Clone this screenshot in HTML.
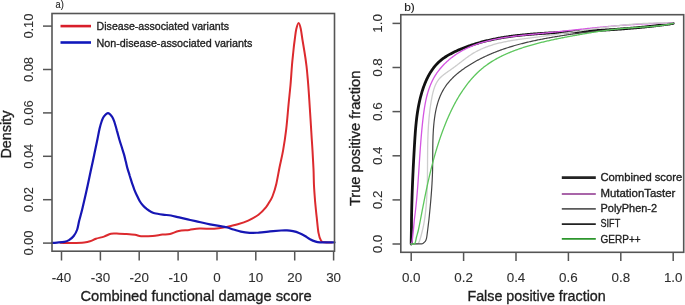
<!DOCTYPE html>
<html><head><meta charset="utf-8"><style>
html,body{margin:0;padding:0;background:#fff;}
body{width:685px;height:305px;overflow:hidden;}
#w{width:685px;height:305px;will-change:transform;}
svg{display:block;}
text{font-family:"Liberation Sans",sans-serif;}
</style></head><body><div id="w">
<svg width="685" height="305" viewBox="0 0 685 305">
<path d="M60.5,242.8 C62.5,242.8 68.5,243.1 72.5,243.0 C76.5,242.9 81.3,242.7 84.2,242.4 C87.1,242.1 88.0,241.9 90.0,241.3 C92.0,240.7 93.6,239.5 95.9,238.7 C98.2,237.9 101.5,237.4 104.0,236.6 C106.5,235.8 108.5,234.2 111.0,233.7 C113.5,233.2 116.9,233.7 119.2,233.7 C121.5,233.7 122.4,233.7 125.0,233.9 C127.6,234.1 132.3,234.4 135.0,234.8 C137.7,235.2 138.2,236.0 141.1,236.2 C144.0,236.4 149.0,236.2 152.6,235.9 C156.2,235.6 159.6,234.9 162.5,234.6 C165.4,234.3 167.3,234.5 170.0,233.9 C172.7,233.3 175.6,231.7 178.8,231.0 C182.0,230.3 185.8,230.3 189.2,229.9 C192.6,229.5 195.3,228.7 199.5,228.5 C203.7,228.3 209.8,229.1 214.2,228.8 C218.6,228.6 222.1,227.8 226.0,227.0 C229.9,226.2 234.1,225.4 237.8,224.3 C241.5,223.2 244.8,222.2 248.2,220.6 C251.6,219.0 255.6,216.9 258.5,214.7 C261.4,212.5 264.0,209.7 265.9,207.4 C267.8,205.1 268.9,202.9 270.0,201.0 C271.1,199.1 271.6,198.8 272.6,196.0 C273.7,193.2 275.2,188.8 276.3,184.0 C277.4,179.2 278.4,173.1 279.5,167.5 C280.6,161.9 282.0,156.8 283.1,150.4 C284.2,144.1 285.3,137.0 286.2,129.4 C287.1,121.8 287.8,112.4 288.5,105.0 C289.2,97.6 289.9,91.7 290.5,85.0 C291.1,78.3 291.5,70.8 292.0,65.0 C292.5,59.2 293.1,54.2 293.5,50.0 C293.9,45.8 294.2,43.5 294.7,40.0 C295.2,36.5 295.6,31.9 296.3,29.0 C297.0,26.1 297.9,22.9 298.6,22.9 C299.4,22.9 300.2,26.1 300.8,29.0 C301.4,31.9 301.9,36.2 302.5,40.0 C303.1,43.8 303.8,47.7 304.5,52.0 C305.2,56.3 305.9,61.0 306.5,66.0 C307.1,71.0 307.5,76.3 308.0,82.0 C308.5,87.7 308.9,93.9 309.3,100.0 C309.7,106.1 310.1,112.9 310.5,118.7 C310.9,124.5 311.2,129.7 311.5,135.0 C311.8,140.3 312.2,144.7 312.5,150.4 C312.8,156.1 313.2,163.1 313.5,169.0 C313.8,174.9 313.7,180.3 314.0,185.7 C314.3,191.1 314.7,196.2 315.1,201.5 C315.6,206.8 316.1,212.0 316.7,217.2 C317.3,222.4 317.8,229.0 318.5,232.9 C319.2,236.8 320.0,239.2 321.1,240.8 C322.2,242.4 323.2,242.0 325.0,242.3 C326.8,242.6 330.8,242.4 332.0,242.4" fill="none" stroke="#dc2a2e" stroke-width="2.0" stroke-linejoin="round" stroke-linecap="round"/>
<path d="M52.0,242.8 C52.8,242.8 55.0,242.8 57.0,242.6 C59.0,242.4 62.3,242.2 64.3,241.8 C66.3,241.4 67.4,241.1 69.0,240.1 C70.6,239.1 72.3,237.8 73.7,236.0 C75.1,234.2 76.3,232.1 77.2,229.5 C78.1,226.9 78.4,223.8 79.3,220.3 C80.2,216.8 81.3,213.0 82.4,208.4 C83.5,203.8 84.9,197.9 86.1,192.6 C87.3,187.3 88.4,182.1 89.5,176.8 C90.6,171.5 91.9,165.6 92.9,161.0 C93.9,156.4 94.5,153.2 95.3,149.5 C96.1,145.8 96.8,142.5 97.5,139.0 C98.2,135.5 98.9,131.4 99.6,128.5 C100.3,125.6 100.9,123.5 101.6,121.5 C102.3,119.5 102.7,118.0 103.8,116.6 C104.9,115.2 106.6,113.1 108.0,113.1 C109.4,113.1 110.9,115.1 112.0,116.6 C113.1,118.1 113.6,119.7 114.4,122.0 C115.2,124.3 116.1,127.6 116.9,130.6 C117.8,133.6 118.7,137.2 119.5,140.0 C120.3,142.8 121.0,144.8 121.8,147.2 C122.5,149.6 123.3,152.0 124.0,154.4 C124.7,156.8 125.2,159.2 125.8,161.6 C126.4,164.0 126.9,166.5 127.6,168.9 C128.3,171.3 129.1,173.6 129.8,176.0 C130.6,178.4 131.3,181.0 132.1,183.3 C132.9,185.6 133.6,187.8 134.4,189.8 C135.2,191.8 135.9,193.3 136.8,195.2 C137.7,197.1 138.8,199.6 139.8,201.3 C140.8,203.0 141.9,204.3 143.0,205.5 C144.1,206.7 145.2,207.7 146.4,208.7 C147.7,209.7 149.1,210.8 150.5,211.5 C151.9,212.2 152.5,212.7 154.6,213.2 C156.7,213.7 160.1,214.2 162.8,214.6 C165.5,215.0 168.3,215.0 171.0,215.5 C173.7,216.0 176.4,216.8 179.2,217.4 C182.0,218.1 185.0,218.8 187.7,219.4 C190.4,220.0 191.9,220.3 195.6,221.1 C199.3,221.9 204.9,223.4 210.0,224.4 C215.1,225.4 222.1,226.3 226.0,227.2 C229.9,228.0 230.9,228.8 233.4,229.5 C235.9,230.2 238.1,231.0 240.8,231.6 C243.5,232.2 246.7,232.7 249.6,232.9 C252.5,233.1 255.1,232.8 258.5,232.6 C261.9,232.3 266.2,231.8 270.0,231.4 C273.8,231.1 278.2,230.7 281.0,230.5 C283.8,230.3 285.0,230.3 287.0,230.4 C289.0,230.5 291.0,230.8 293.0,231.2 C295.0,231.6 297.0,232.1 299.0,232.9 C301.0,233.7 303.2,234.9 305.0,236.0 C306.8,237.1 308.3,238.3 310.0,239.2 C311.7,240.1 313.3,240.9 315.0,241.4 C316.7,241.9 316.8,242.1 320.0,242.3 C323.2,242.5 332.1,242.4 334.5,242.4" fill="none" stroke="#1616b4" stroke-width="2.2" stroke-linejoin="round" stroke-linecap="round"/>
<path d="M411.2,244.0 C411.2,242.7 411.2,240.0 411.3,236.0 C411.4,232.0 411.5,222.7 411.5,220.0 L411.52,218.97 L411.53,217.95 L411.55,216.92 L411.57,215.90 L411.59,214.88 L411.61,213.85 L411.63,212.83 L411.65,211.81 L411.67,210.79 L411.69,209.77 L411.72,208.76 L411.74,207.74 L411.76,206.72 L411.79,205.71 L411.82,204.69 L411.84,203.68 L411.87,202.67 L411.90,201.65 L411.93,200.64 L411.96,199.63 L411.99,198.62 L412.02,197.61 L412.05,196.60 L412.09,195.59 L412.12,194.58 L412.15,193.57 L412.19,192.57 L412.22,191.56 L412.26,190.55 L412.30,189.54 L412.34,188.54 L412.37,187.53 L412.41,186.53 L412.45,185.52 L412.49,184.52 L412.53,183.51 L412.57,182.51 L412.61,181.50 L412.66,180.50 L412.70,179.49 L412.74,178.49 L412.79,177.48 L412.83,176.48 L412.88,175.47 L412.92,174.47 L412.97,173.47 L413.02,172.46 L413.07,171.46 L413.11,170.45 L413.16,169.45 L413.21,168.44 L413.26,167.44 L413.31,166.43 L413.36,165.43 L413.41,164.42 L413.46,163.42 L413.52,162.41 L413.57,161.40 L413.62,160.40 L413.68,159.39 L413.73,158.38 L413.79,157.37 L413.84,156.36 L413.90,155.35 L413.95,154.34 L414.01,153.33 L414.06,152.32 L414.12,151.31 L414.18,150.30 L414.24,149.29 L414.30,148.27 L414.36,147.26 L414.41,146.25 L414.47,145.23 L414.53,144.21 L414.60,143.20 L414.66,142.18 L414.72,141.16 L414.78,140.14 L414.85,139.12 L414.91,138.11 L414.98,137.09 L415.05,136.07 L415.12,135.05 L415.19,134.03 L415.26,133.01 L415.34,131.98 L415.42,130.96 L415.50,129.94 L415.59,128.92 L415.67,127.90 L415.76,126.89 L415.86,125.87 L415.95,124.85 L416.05,123.83 L416.16,122.81 L416.26,121.79 L416.37,120.78 L416.49,119.76 L416.61,118.75 L416.73,117.73 L416.86,116.72 L416.99,115.71 L417.13,114.70 L417.27,113.69 L417.42,112.68 L417.57,111.67 L417.73,110.67 L417.90,109.66 L418.07,108.66 L418.24,107.66 L418.42,106.66 L418.61,105.66 L418.81,104.66 L419.01,103.66 L419.22,102.67 L419.43,101.68 L419.65,100.69 L419.88,99.70 L420.11,98.72 L420.36,97.73 L420.61,96.75 L420.87,95.77 L421.13,94.79 L421.41,93.82 L421.69,92.85 L421.98,91.88 L422.28,90.91 L422.59,89.95 L422.90,88.98 L423.23,88.03 L423.56,87.07 L423.91,86.12 L424.26,85.17 L424.63,84.23 L425.00,83.29 L425.39,82.36 L425.78,81.43 L426.19,80.51 L426.60,79.60 L427.03,78.69 L427.47,77.79 L427.92,76.90 L428.39,76.01 L428.86,75.13 L429.35,74.27 L429.85,73.41 L430.36,72.56 L430.89,71.72 L431.43,70.89 L431.98,70.07 L432.55,69.26 L433.13,68.47 L433.72,67.68 L434.33,66.91 L434.95,66.15 L435.59,65.41 L436.24,64.67 L436.91,63.95 L437.59,63.25 L438.29,62.56 L439.01,61.88 L439.74,61.22 L440.49,60.57 L441.25,59.94 L442.03,59.33 L442.82,58.73 L443.63,58.14 L444.45,57.57 L445.29,57.01 L446.13,56.46 L446.99,55.93 L447.86,55.41 L448.74,54.89 L449.63,54.39 L450.52,53.91 L451.43,53.43 L452.34,52.96 L453.26,52.50 L454.18,52.04 L455.11,51.60 L456.04,51.16 L456.98,50.74 L457.92,50.32 L458.87,49.90 L459.82,49.50 L460.77,49.10 L461.73,48.71 L462.68,48.32 L463.64,47.95 L464.61,47.58 L465.57,47.21 L466.53,46.85 L467.50,46.50 L468.46,46.16 L469.43,45.82 L470.40,45.49 L471.37,45.16 L472.34,44.84 L473.31,44.53 L474.28,44.22 L475.25,43.92 L476.22,43.62 L477.20,43.33 L478.17,43.04 L479.15,42.77 L480.13,42.49 L481.10,42.22 L482.08,41.96 L483.06,41.70 L484.04,41.45 L485.02,41.20 L486.00,40.96 L486.99,40.72 L487.97,40.49 L488.95,40.26 L489.94,40.04 L490.92,39.82 L491.91,39.61 L492.90,39.40 L493.89,39.20 L494.87,39.00 L495.86,38.80 L496.85,38.61 L497.84,38.42 L498.83,38.24 L499.83,38.06 L500.82,37.89 L501.81,37.72 L502.81,37.56 L503.80,37.39 L504.80,37.23 L505.79,37.08 L506.79,36.93 L507.78,36.78 L508.78,36.64 L509.78,36.50 L510.78,36.36 L511.78,36.23 L512.78,36.10 L513.78,35.97 L514.78,35.85 L515.78,35.73 L516.78,35.61 L517.78,35.49 L518.78,35.38 L519.79,35.27 L520.79,35.17 L521.79,35.06 L522.80,34.96 L523.80,34.86 L524.81,34.77 L525.81,34.67 L526.82,34.58 L527.83,34.49 L528.83,34.40 L529.84,34.32 L530.85,34.24 L531.86,34.16 L532.86,34.08 L533.87,34.00 L534.88,33.92 L535.89,33.85 L536.90,33.78 L537.91,33.71 L538.92,33.64 L539.93,33.57 L540.94,33.50 L541.95,33.44 L542.96,33.37 L543.97,33.31 L544.98,33.25 L545.99,33.19 L547.00,33.13 L548.02,33.07 L549.03,33.01 L550.04,32.95 L551.05,32.90 L552.06,32.84 L553.08,32.79 L554.09,32.73 L555.10,32.68 L556.12,32.62 L557.13,32.57 L558.14,32.52 L559.15,32.46 L560.17,32.41 L561.18,32.36 L562.19,32.30 L563.21,32.25 L564.22,32.20 L565.23,32.15 L566.25,32.10 L567.26,32.05 L568.27,31.99 L569.29,31.94 L570.30,31.89 L571.32,31.84 L572.33,31.79 L573.34,31.74 L574.36,31.69 L575.37,31.64 L576.39,31.59 L577.40,31.54 L578.41,31.48 L579.43,31.43 L580.44,31.38 L581.46,31.33 L582.47,31.28 L583.48,31.23 L584.50,31.17 L585.51,31.12 L586.52,31.07 L587.54,31.02 L588.55,30.96 L589.57,30.91 L590.58,30.86 L591.59,30.80 L592.61,30.75 L593.62,30.69 L594.63,30.64 L595.65,30.58 L596.66,30.53 L597.68,30.47 L598.69,30.41 L599.70,30.36 L600.71,30.30 L601.73,30.24 L602.74,30.18 L603.75,30.12 L604.77,30.06 L605.78,30.00 L606.79,29.94 L607.80,29.88 L608.82,29.81 L609.83,29.75 L610.84,29.69 L611.85,29.62 L612.87,29.56 L613.88,29.49 L614.89,29.42 L615.90,29.35 L616.91,29.28 L617.92,29.21 L618.93,29.14 L619.95,29.07 L620.96,29.00 L621.97,28.92 L622.98,28.85 L623.99,28.77 L625.00,28.70 L626.01,28.62 L627.02,28.54 L628.03,28.46 L629.04,28.38 L630.05,28.30 L631.05,28.21 L632.06,28.13 L633.07,28.04 L634.08,27.96 L635.09,27.87 L636.10,27.78 L637.10,27.69 L638.11,27.60 L639.12,27.50 L640.13,27.41 L641.13,27.31 L642.14,27.22 L643.15,27.12 L644.15,27.02 L645.16,26.92 L646.16,26.81 L647.17,26.71 L648.17,26.60 L649.18,26.49 L650.18,26.39 L651.19,26.28 L652.19,26.16 L653.20,26.05 L654.20,25.93 L655.20,25.82 L656.20,25.70 L657.21,25.58 L658.21,25.46 L659.21,25.33 L660.21,25.21 L661.21,25.08 L662.21,24.95 L663.21,24.82 L664.22,24.69 L665.22,24.55 L666.21,24.42 L667.21,24.28 L668.21,24.14 L669.21,24.00 L670.21,23.85 L671.21,23.71 L672.20,23.56 L673.20,23.40" fill="none" stroke="#111" stroke-width="2.8" stroke-linejoin="round" stroke-linecap="round"/>
<path d="M411.2,244.0 C411.4,243.4 411.9,242.5 412.2,240.5 C412.5,238.5 412.8,235.4 413.2,232.0 C413.6,228.6 414.1,222.0 414.3,220.0 L414.43,219.00 L414.56,218.00 L414.69,217.00 L414.82,216.00 L414.95,215.01 L415.07,214.01 L415.19,213.01 L415.31,212.02 L415.43,211.02 L415.54,210.02 L415.65,209.03 L415.76,208.03 L415.87,207.04 L415.98,206.04 L416.08,205.05 L416.18,204.05 L416.28,203.06 L416.38,202.07 L416.48,201.07 L416.57,200.08 L416.66,199.09 L416.76,198.10 L416.85,197.10 L416.93,196.11 L417.02,195.12 L417.11,194.13 L417.19,193.14 L417.27,192.15 L417.35,191.15 L417.43,190.16 L417.51,189.17 L417.59,188.18 L417.67,187.19 L417.74,186.20 L417.82,185.21 L417.89,184.22 L417.96,183.23 L418.04,182.24 L418.11,181.25 L418.18,180.26 L418.25,179.27 L418.32,178.28 L418.38,177.29 L418.45,176.30 L418.52,175.31 L418.59,174.32 L418.65,173.33 L418.72,172.34 L418.78,171.35 L418.85,170.36 L418.91,169.37 L418.98,168.38 L419.04,167.39 L419.11,166.40 L419.17,165.41 L419.24,164.42 L419.30,163.43 L419.36,162.44 L419.43,161.45 L419.49,160.46 L419.56,159.47 L419.62,158.48 L419.69,157.49 L419.76,156.50 L419.82,155.51 L419.89,154.51 L419.96,153.52 L420.02,152.53 L420.09,151.54 L420.16,150.54 L420.23,149.55 L420.30,148.56 L420.37,147.56 L420.45,146.57 L420.52,145.58 L420.59,144.58 L420.67,143.59 L420.75,142.59 L420.82,141.60 L420.90,140.60 L420.98,139.61 L421.06,138.61 L421.14,137.61 L421.23,136.61 L421.31,135.62 L421.40,134.62 L421.49,133.62 L421.58,132.62 L421.67,131.62 L421.76,130.62 L421.85,129.62 L421.95,128.62 L422.05,127.62 L422.15,126.62 L422.25,125.62 L422.35,124.61 L422.45,123.61 L422.56,122.61 L422.67,121.60 L422.78,120.60 L422.89,119.59 L423.01,118.59 L423.13,117.58 L423.25,116.57 L423.37,115.57 L423.50,114.56 L423.63,113.56 L423.77,112.55 L423.91,111.55 L424.05,110.54 L424.20,109.54 L424.35,108.54 L424.51,107.54 L424.68,106.54 L424.85,105.55 L425.02,104.55 L425.21,103.56 L425.40,102.57 L425.59,101.58 L425.80,100.60 L426.01,99.62 L426.23,98.64 L426.46,97.67 L426.70,96.69 L426.94,95.73 L427.19,94.76 L427.46,93.80 L427.73,92.85 L428.01,91.89 L428.31,90.95 L428.61,90.01 L428.93,89.07 L429.25,88.14 L429.59,87.21 L429.94,86.29 L430.30,85.37 L430.67,84.46 L431.05,83.56 L431.45,82.66 L431.86,81.76 L432.28,80.88 L432.72,80.00 L433.17,79.13 L433.63,78.26 L434.11,77.41 L434.61,76.55 L435.12,75.71 L435.64,74.88 L436.18,74.05 L436.73,73.23 L437.30,72.42 L437.88,71.62 L438.47,70.82 L439.08,70.03 L439.70,69.26 L440.33,68.49 L440.97,67.73 L441.62,66.98 L442.29,66.23 L442.97,65.50 L443.66,64.78 L444.35,64.06 L445.06,63.36 L445.78,62.66 L446.51,61.98 L447.24,61.30 L447.99,60.64 L448.74,59.98 L449.51,59.34 L450.27,58.70 L451.05,58.08 L451.84,57.46 L452.63,56.86 L453.42,56.27 L454.23,55.69 L455.04,55.12 L455.85,54.56 L456.67,54.01 L457.50,53.48 L458.33,52.95 L459.16,52.44 L460.00,51.93 L460.85,51.44 L461.70,50.96 L462.55,50.48 L463.42,50.02 L464.28,49.57 L465.15,49.12 L466.02,48.69 L466.90,48.26 L467.79,47.85 L468.67,47.44 L469.57,47.05 L470.46,46.66 L471.36,46.28 L472.27,45.91 L473.17,45.55 L474.09,45.19 L475.00,44.85 L475.92,44.51 L476.85,44.18 L477.77,43.86 L478.70,43.55 L479.64,43.24 L480.57,42.94 L481.52,42.65 L482.46,42.37 L483.41,42.09 L484.36,41.82 L485.31,41.56 L486.27,41.30 L487.23,41.05 L488.19,40.81 L489.15,40.57 L490.12,40.34 L491.09,40.11 L492.06,39.89 L493.04,39.68 L494.01,39.47 L494.99,39.27 L495.98,39.07 L496.96,38.88 L497.95,38.69 L498.93,38.51 L499.92,38.33 L500.92,38.16 L501.91,37.99 L502.90,37.82 L503.90,37.66 L504.90,37.51 L505.90,37.36 L506.90,37.21 L507.90,37.06 L508.91,36.92 L509.91,36.78 L510.92,36.65 L511.93,36.52 L512.93,36.39 L513.94,36.26 L514.95,36.14 L515.96,36.02 L516.98,35.90 L517.99,35.78 L519.00,35.67 L520.01,35.56 L521.03,35.45 L522.04,35.34 L523.05,35.23 L524.07,35.13 L525.08,35.02 L526.10,34.92 L527.11,34.82 L528.12,34.72 L529.14,34.62 L530.15,34.52 L531.17,34.42 L532.18,34.32 L533.19,34.23 L534.20,34.13 L535.21,34.03 L536.22,33.93 L537.23,33.83 L538.24,33.73 L539.25,33.64 L540.25,33.54 L541.26,33.44 L542.27,33.33 L543.27,33.23 L544.27,33.13 L545.28,33.03 L546.28,32.93 L547.28,32.82 L548.28,32.72 L549.28,32.62 L550.28,32.51 L551.27,32.41 L552.27,32.30 L553.27,32.20 L554.26,32.10 L555.26,31.99 L556.25,31.88 L557.24,31.78 L558.24,31.67 L559.23,31.57 L560.22,31.46 L561.21,31.35 L562.20,31.25 L563.19,31.14 L564.18,31.04 L565.17,30.93 L566.16,30.82 L567.15,30.72 L568.14,30.61 L569.12,30.50 L570.11,30.40 L571.09,30.29 L572.08,30.18 L573.07,30.08 L574.05,29.97 L575.03,29.87 L576.02,29.76 L577.00,29.65 L577.99,29.55 L578.97,29.44 L579.95,29.34 L580.93,29.23 L581.92,29.13 L582.90,29.03 L583.88,28.92 L584.86,28.82 L585.84,28.71 L586.83,28.61 L587.81,28.51 L588.79,28.41 L589.77,28.31 L590.75,28.20 L591.73,28.10 L592.71,28.00 L593.69,27.90 L594.67,27.81 L595.65,27.71 L596.63,27.61 L597.61,27.51 L598.59,27.41 L599.57,27.32 L600.55,27.22 L601.53,27.13 L602.51,27.03 L603.49,26.94 L604.47,26.85 L605.45,26.75 L606.43,26.66 L607.41,26.57 L608.39,26.48 L609.38,26.39 L610.36,26.30 L611.34,26.22 L612.32,26.13 L613.30,26.04 L614.28,25.96 L615.27,25.87 L616.25,25.79 L617.23,25.71 L618.21,25.63 L619.20,25.55 L620.18,25.47 L621.17,25.39 L622.15,25.31 L623.14,25.24 L624.12,25.16 L625.11,25.09 L626.09,25.02 L627.08,24.94 L628.07,24.87 L629.05,24.80 L630.04,24.74 L631.03,24.67 L632.02,24.60 L633.01,24.54 L634.00,24.48 L634.99,24.41 L635.98,24.35 L636.97,24.29 L637.97,24.24 L638.96,24.18 L639.95,24.13 L640.95,24.07 L641.94,24.02 L642.94,23.97 L643.93,23.92 L644.93,23.87 L645.93,23.82 L646.93,23.78 L647.93,23.74 L648.93,23.69 L649.93,23.65 L650.93,23.61 L651.93,23.58 L652.94,23.54 L653.94,23.51 L654.95,23.48 L655.95,23.45 L656.96,23.42 L657.97,23.39 L658.98,23.36 L659.98,23.34 L661.00,23.32 L662.01,23.30 L663.02,23.28 L664.03,23.26 L665.05,23.25 L666.06,23.24 L667.08,23.22 L668.10,23.22 L669.12,23.21 L670.14,23.20 L671.16,23.20 L672.18,23.20 L673.20,23.20" fill="none" stroke="#d455e2" stroke-width="1.3" stroke-linejoin="round" stroke-linecap="round"/>
<path d="M411.2,244.0 C412.0,244.0 414.8,243.9 416.0,243.8 C417.2,243.7 417.8,244.1 418.5,243.2 C419.2,242.3 419.6,241.0 420.3,238.5 C421.1,236.0 422.2,231.4 423.0,228.0 C423.8,224.6 424.5,219.7 424.8,218.0 L424.93,217.04 L425.06,216.08 L425.18,215.12 L425.30,214.16 L425.41,213.20 L425.52,212.23 L425.63,211.27 L425.73,210.31 L425.83,209.34 L425.92,208.38 L426.01,207.42 L426.10,206.45 L426.18,205.49 L426.26,204.52 L426.34,203.55 L426.41,202.59 L426.48,201.62 L426.55,200.65 L426.61,199.69 L426.68,198.72 L426.73,197.75 L426.79,196.78 L426.84,195.81 L426.89,194.85 L426.94,193.88 L426.98,192.91 L427.02,191.94 L427.06,190.97 L427.10,190.00 L427.14,189.03 L427.17,188.05 L427.20,187.08 L427.23,186.11 L427.26,185.14 L427.28,184.17 L427.31,183.20 L427.33,182.22 L427.35,181.25 L427.37,180.28 L427.38,179.31 L427.40,178.33 L427.42,177.36 L427.43,176.39 L427.44,175.41 L427.45,174.44 L427.46,173.47 L427.47,172.49 L427.48,171.52 L427.49,170.54 L427.50,169.57 L427.50,168.60 L427.51,167.62 L427.52,166.65 L427.52,165.67 L427.53,164.70 L427.53,163.72 L427.54,162.75 L427.54,161.78 L427.55,160.80 L427.55,159.83 L427.56,158.85 L427.57,157.88 L427.57,156.90 L427.58,155.93 L427.59,154.95 L427.59,153.98 L427.60,153.01 L427.61,152.03 L427.62,151.06 L427.63,150.08 L427.65,149.11 L427.66,148.14 L427.67,147.16 L427.69,146.19 L427.71,145.22 L427.73,144.24 L427.75,143.27 L427.77,142.30 L427.79,141.32 L427.82,140.35 L427.84,139.38 L427.87,138.41 L427.90,137.43 L427.93,136.46 L427.97,135.49 L428.01,134.52 L428.04,133.55 L428.09,132.58 L428.13,131.61 L428.18,130.64 L428.23,129.66 L428.28,128.69 L428.33,127.73 L428.39,126.76 L428.45,125.79 L428.51,124.82 L428.58,123.85 L428.65,122.88 L428.72,121.91 L428.80,120.95 L428.88,119.98 L428.96,119.01 L429.04,118.05 L429.13,117.08 L429.23,116.11 L429.33,115.15 L429.43,114.18 L429.53,113.22 L429.64,112.26 L429.75,111.29 L429.87,110.33 L429.99,109.37 L430.12,108.40 L430.25,107.44 L430.38,106.48 L430.52,105.52 L430.67,104.56 L430.82,103.60 L430.97,102.64 L431.13,101.68 L431.29,100.72 L431.46,99.77 L431.63,98.81 L431.81,97.85 L432.00,96.90 L432.19,95.94 L432.39,94.99 L432.60,94.04 L432.81,93.10 L433.04,92.16 L433.29,91.23 L433.55,90.31 L433.82,89.39 L434.11,88.49 L434.42,87.59 L434.75,86.70 L435.10,85.83 L435.47,84.97 L435.86,84.13 L436.28,83.30 L436.73,82.48 L437.20,81.69 L437.70,80.91 L438.23,80.15 L438.79,79.41 L439.38,78.69 L440.00,77.99 L440.66,77.32 L441.35,76.66 L442.06,76.02 L442.80,75.40 L443.56,74.79 L444.34,74.19 L445.14,73.61 L445.94,73.03 L446.75,72.45 L447.57,71.89 L448.39,71.32 L449.21,70.75 L450.03,70.18 L450.84,69.61 L451.65,69.03 L452.45,68.45 L453.25,67.87 L454.05,67.29 L454.84,66.70 L455.63,66.12 L456.42,65.52 L457.20,64.93 L457.99,64.34 L458.77,63.74 L459.55,63.14 L460.32,62.54 L461.10,61.93 L461.88,61.33 L462.65,60.72 L463.43,60.12 L464.21,59.52 L464.99,58.92 L465.77,58.33 L466.56,57.75 L467.34,57.17 L468.13,56.60 L468.93,56.04 L469.73,55.49 L470.53,54.95 L471.34,54.42 L472.15,53.91 L472.97,53.41 L473.80,52.92 L474.63,52.44 L475.46,51.97 L476.30,51.51 L477.14,51.07 L477.99,50.63 L478.84,50.21 L479.70,49.80 L480.56,49.39 L481.43,49.00 L482.30,48.62 L483.17,48.25 L484.05,47.88 L484.93,47.53 L485.82,47.18 L486.71,46.85 L487.60,46.52 L488.50,46.20 L489.40,45.89 L490.31,45.59 L491.22,45.30 L492.13,45.01 L493.04,44.73 L493.96,44.46 L494.88,44.20 L495.80,43.95 L496.73,43.70 L497.66,43.45 L498.59,43.22 L499.53,42.99 L500.46,42.77 L501.40,42.55 L502.34,42.34 L503.29,42.13 L504.24,41.93 L505.19,41.74 L506.14,41.55 L507.09,41.37 L508.05,41.19 L509.00,41.01 L509.96,40.84 L510.92,40.67 L511.88,40.51 L512.85,40.35 L513.81,40.19 L514.78,40.04 L515.75,39.89 L516.72,39.75 L517.69,39.61 L518.66,39.47 L519.63,39.33 L520.60,39.19 L521.58,39.06 L522.55,38.93 L523.52,38.80 L524.50,38.67 L525.48,38.54 L526.45,38.42 L527.43,38.29 L528.41,38.17 L529.38,38.05 L530.36,37.93 L531.34,37.80 L532.32,37.68 L533.29,37.56 L534.27,37.44 L535.24,37.31 L536.22,37.19 L537.20,37.07 L538.17,36.94 L539.15,36.81 L540.12,36.68 L541.09,36.56 L542.06,36.43 L543.04,36.29 L544.01,36.16 L544.98,36.03 L545.95,35.90 L546.92,35.76 L547.89,35.63 L548.85,35.49 L549.82,35.35 L550.79,35.21 L551.76,35.08 L552.72,34.94 L553.69,34.80 L554.65,34.65 L555.62,34.51 L556.58,34.37 L557.55,34.23 L558.51,34.09 L559.47,33.94 L560.44,33.80 L561.40,33.66 L562.36,33.51 L563.32,33.37 L564.28,33.22 L565.24,33.08 L566.21,32.93 L567.17,32.78 L568.13,32.64 L569.09,32.49 L570.04,32.35 L571.00,32.20 L571.96,32.05 L572.92,31.91 L573.88,31.76 L574.84,31.62 L575.79,31.47 L576.75,31.32 L577.71,31.18 L578.67,31.03 L579.62,30.89 L580.58,30.74 L581.54,30.60 L582.49,30.45 L583.45,30.31 L584.41,30.17 L585.36,30.02 L586.32,29.88 L587.27,29.74 L588.23,29.60 L589.19,29.46 L590.14,29.32 L591.10,29.18 L592.05,29.04 L593.01,28.90 L593.96,28.76 L594.92,28.63 L595.87,28.49 L596.83,28.36 L597.78,28.22 L598.74,28.09 L599.69,27.96 L600.65,27.82 L601.61,27.69 L602.56,27.56 L603.52,27.44 L604.47,27.31 L605.43,27.18 L606.38,27.06 L607.34,26.94 L608.30,26.81 L609.25,26.69 L610.21,26.57 L611.16,26.45 L612.12,26.34 L613.08,26.22 L614.04,26.11 L614.99,25.99 L615.95,25.88 L616.91,25.77 L617.87,25.67 L618.82,25.56 L619.78,25.45 L620.74,25.35 L621.70,25.25 L622.66,25.15 L623.62,25.05 L624.58,24.96 L625.54,24.86 L626.50,24.77 L627.46,24.68 L628.42,24.59 L629.38,24.51 L630.35,24.42 L631.31,24.34 L632.27,24.26 L633.23,24.18 L634.20,24.10 L635.16,24.03 L636.13,23.96 L637.09,23.89 L638.06,23.82 L639.02,23.76 L639.99,23.69 L640.96,23.63 L641.92,23.58 L642.89,23.52 L643.86,23.47 L644.83,23.42 L645.80,23.37 L646.77,23.33 L647.74,23.28 L648.71,23.24 L649.68,23.21 L650.65,23.17 L651.63,23.14 L652.60,23.11 L653.57,23.09 L654.55,23.06 L655.52,23.04 L656.50,23.02 L657.48,23.01 L658.45,23.00 L659.43,22.99 L660.41,22.98 L661.39,22.98 L662.37,22.98 L663.35,22.99 L664.33,22.99 L665.31,23.00 L666.30,23.02 L667.28,23.03 L668.27,23.05 L669.25,23.08 L670.24,23.10 L671.23,23.13 L672.21,23.17 L673.20,23.20" fill="none" stroke="#cdcdcd" stroke-width="1.3" stroke-linejoin="round" stroke-linecap="round"/>
<path d="M411.2,244.0 C411.8,244.0 413.2,243.9 414.9,243.9 C416.6,243.9 420.1,243.9 421.5,243.8 C422.9,243.7 422.6,243.6 423.2,243.2 C423.8,242.8 424.8,242.1 425.3,241.3 C425.9,240.5 426.2,239.4 426.5,238.3 C426.8,237.2 426.9,236.1 427.1,234.5 C427.3,232.9 427.5,231.4 427.8,229.0 C428.1,226.6 428.7,221.5 428.9,220.0 L429.00,219.05 L429.09,218.09 L429.19,217.14 L429.28,216.19 L429.38,215.24 L429.47,214.29 L429.56,213.35 L429.66,212.40 L429.75,211.45 L429.84,210.51 L429.93,209.56 L430.02,208.62 L430.11,207.67 L430.20,206.73 L430.29,205.79 L430.37,204.85 L430.46,203.90 L430.54,202.96 L430.63,202.02 L430.71,201.08 L430.79,200.14 L430.87,199.20 L430.95,198.26 L431.03,197.32 L431.11,196.38 L431.18,195.44 L431.25,194.51 L431.33,193.57 L431.40,192.63 L431.47,191.69 L431.54,190.75 L431.60,189.81 L431.67,188.87 L431.73,187.93 L431.79,186.99 L431.85,186.06 L431.91,185.12 L431.97,184.18 L432.02,183.24 L432.07,182.29 L432.12,181.35 L432.17,180.41 L432.22,179.47 L432.26,178.53 L432.31,177.58 L432.35,176.64 L432.39,175.70 L432.42,174.75 L432.46,173.81 L432.49,172.86 L432.52,171.91 L432.54,170.96 L432.57,170.01 L432.59,169.07 L432.61,168.11 L432.63,167.16 L432.64,166.21 L432.66,165.26 L432.67,164.30 L432.68,163.35 L432.69,162.40 L432.70,161.44 L432.71,160.49 L432.71,159.53 L432.72,158.57 L432.72,157.61 L432.73,156.66 L432.73,155.70 L432.74,154.74 L432.74,153.78 L432.75,152.82 L432.76,151.86 L432.76,150.91 L432.77,149.95 L432.78,148.99 L432.79,148.03 L432.80,147.07 L432.81,146.11 L432.82,145.15 L432.84,144.19 L432.86,143.23 L432.88,142.27 L432.90,141.31 L432.92,140.35 L432.95,139.40 L432.98,138.44 L433.01,137.48 L433.04,136.52 L433.08,135.57 L433.12,134.61 L433.17,133.66 L433.22,132.70 L433.27,131.75 L433.33,130.79 L433.39,129.84 L433.45,128.89 L433.52,127.93 L433.60,126.98 L433.68,126.03 L433.76,125.08 L433.85,124.13 L433.94,123.19 L434.04,122.24 L434.15,121.29 L434.26,120.35 L434.38,119.40 L434.50,118.46 L434.63,117.52 L434.77,116.58 L434.91,115.64 L435.06,114.71 L435.22,113.77 L435.38,112.84 L435.55,111.91 L435.73,110.98 L435.92,110.06 L436.12,109.14 L436.33,108.22 L436.54,107.31 L436.77,106.40 L437.00,105.50 L437.25,104.59 L437.50,103.70 L437.77,102.81 L438.04,101.92 L438.33,101.03 L438.63,100.16 L438.94,99.29 L439.26,98.42 L439.59,97.56 L439.94,96.70 L440.29,95.85 L440.66,95.01 L441.05,94.18 L441.44,93.35 L441.85,92.52 L442.27,91.71 L442.71,90.90 L443.16,90.10 L443.63,89.31 L444.10,88.52 L444.60,87.75 L445.10,86.98 L445.62,86.22 L446.15,85.46 L446.70,84.72 L447.26,83.98 L447.83,83.25 L448.42,82.53 L449.01,81.82 L449.62,81.11 L450.25,80.41 L450.88,79.73 L451.52,79.05 L452.18,78.37 L452.85,77.71 L453.53,77.05 L454.21,76.40 L454.91,75.76 L455.62,75.13 L456.34,74.50 L457.06,73.88 L457.79,73.27 L458.54,72.67 L459.29,72.07 L460.04,71.48 L460.80,70.90 L461.57,70.32 L462.35,69.75 L463.13,69.19 L463.92,68.64 L464.71,68.09 L465.51,67.55 L466.31,67.01 L467.12,66.48 L467.93,65.96 L468.74,65.44 L469.55,64.93 L470.37,64.43 L471.19,63.93 L472.02,63.44 L472.84,62.95 L473.67,62.47 L474.50,61.99 L475.33,61.52 L476.17,61.06 L477.00,60.60 L477.84,60.15 L478.68,59.70 L479.53,59.26 L480.37,58.82 L481.22,58.39 L482.07,57.97 L482.92,57.55 L483.78,57.13 L484.63,56.72 L485.49,56.32 L486.35,55.92 L487.21,55.53 L488.08,55.14 L488.94,54.75 L489.81,54.37 L490.68,54.00 L491.55,53.63 L492.43,53.26 L493.30,52.90 L494.18,52.55 L495.06,52.20 L495.94,51.85 L496.82,51.51 L497.71,51.17 L498.59,50.84 L499.48,50.51 L500.37,50.18 L501.26,49.86 L502.15,49.55 L503.04,49.23 L503.94,48.93 L504.83,48.62 L505.73,48.32 L506.63,48.03 L507.53,47.73 L508.43,47.45 L509.33,47.16 L510.24,46.88 L511.14,46.60 L512.05,46.33 L512.96,46.06 L513.87,45.79 L514.78,45.53 L515.69,45.27 L516.60,45.02 L517.51,44.77 L518.43,44.52 L519.35,44.27 L520.26,44.03 L521.18,43.79 L522.10,43.55 L523.02,43.32 L523.94,43.09 L524.86,42.86 L525.78,42.64 L526.71,42.42 L527.63,42.20 L528.55,41.98 L529.48,41.77 L530.41,41.56 L531.33,41.35 L532.26,41.14 L533.19,40.94 L534.12,40.74 L535.05,40.54 L535.98,40.35 L536.91,40.15 L537.84,39.96 L538.77,39.77 L539.70,39.59 L540.63,39.40 L541.57,39.22 L542.50,39.04 L543.43,38.86 L544.37,38.69 L545.30,38.51 L546.24,38.34 L547.17,38.17 L548.11,38.00 L549.04,37.83 L549.98,37.66 L550.91,37.50 L551.85,37.34 L552.79,37.18 L553.72,37.02 L554.66,36.86 L555.59,36.70 L556.53,36.54 L557.47,36.39 L558.40,36.24 L559.34,36.08 L560.28,35.93 L561.21,35.78 L562.15,35.64 L563.09,35.49 L564.02,35.34 L564.96,35.20 L565.90,35.06 L566.83,34.92 L567.77,34.78 L568.71,34.64 L569.64,34.50 L570.58,34.36 L571.52,34.23 L572.46,34.09 L573.39,33.96 L574.33,33.83 L575.27,33.70 L576.21,33.57 L577.15,33.44 L578.08,33.32 L579.02,33.19 L579.96,33.07 L580.90,32.94 L581.84,32.82 L582.78,32.70 L583.71,32.58 L584.65,32.46 L585.59,32.35 L586.53,32.23 L587.47,32.12 L588.41,32.00 L589.35,31.89 L590.29,31.78 L591.23,31.67 L592.17,31.56 L593.11,31.45 L594.05,31.35 L594.99,31.24 L595.93,31.14 L596.87,31.03 L597.81,30.93 L598.75,30.83 L599.70,30.73 L600.64,30.63 L601.58,30.53 L602.52,30.44 L603.46,30.34 L604.40,30.25 L605.35,30.15 L606.29,30.06 L607.23,29.97 L608.18,29.88 L609.12,29.79 L610.06,29.70 L611.01,29.61 L611.95,29.53 L612.89,29.44 L613.84,29.36 L614.78,29.27 L615.73,29.19 L616.67,29.11 L617.62,29.03 L618.56,28.95 L619.51,28.87 L620.45,28.80 L621.40,28.72 L622.34,28.65 L623.29,28.57 L624.24,28.50 L625.18,28.42 L626.13,28.35 L627.08,28.28 L628.03,28.21 L628.97,28.14 L629.92,28.08 L630.87,28.01 L631.82,27.94 L632.77,27.88 L633.71,27.81 L634.66,27.74 L635.61,27.68 L636.56,27.61 L637.51,27.54 L638.46,27.48 L639.40,27.41 L640.35,27.34 L641.30,27.27 L642.25,27.20 L643.20,27.13 L644.14,27.05 L645.09,26.98 L646.04,26.90 L646.98,26.83 L647.93,26.75 L648.87,26.66 L649.82,26.58 L650.76,26.50 L651.71,26.41 L652.65,26.32 L653.59,26.22 L654.54,26.13 L655.48,26.03 L656.42,25.93 L657.36,25.82 L658.30,25.71 L659.24,25.60 L660.17,25.48 L661.11,25.36 L662.05,25.24 L662.98,25.11 L663.92,24.98 L664.85,24.84 L665.78,24.70 L666.71,24.56 L667.64,24.41 L668.57,24.26 L669.50,24.10 L670.43,23.93 L671.35,23.76 L672.28,23.59 L673.20,23.40" fill="none" stroke="#444" stroke-width="1.2" stroke-linejoin="round" stroke-linecap="round"/>
<path d="M411.2,244.0 C411.8,243.9 413.9,244.7 414.8,243.5 C415.7,242.3 415.9,239.2 416.5,237.0 C417.1,234.8 417.8,232.8 418.4,230.0 C419.0,227.2 420.1,221.7 420.4,220.0 L420.57,219.09 L420.75,218.17 L420.92,217.26 L421.10,216.35 L421.27,215.44 L421.45,214.53 L421.62,213.62 L421.80,212.71 L421.97,211.80 L422.15,210.90 L422.32,209.99 L422.50,209.08 L422.68,208.18 L422.85,207.27 L423.03,206.37 L423.21,205.47 L423.38,204.57 L423.56,203.66 L423.74,202.76 L423.92,201.86 L424.10,200.96 L424.28,200.06 L424.46,199.16 L424.64,198.27 L424.82,197.37 L425.00,196.47 L425.18,195.58 L425.37,194.68 L425.55,193.79 L425.73,192.89 L425.92,192.00 L426.11,191.11 L426.29,190.21 L426.48,189.32 L426.67,188.43 L426.86,187.54 L427.05,186.65 L427.24,185.76 L427.44,184.87 L427.63,183.98 L427.83,183.10 L428.02,182.21 L428.22,181.32 L428.42,180.44 L428.62,179.55 L428.82,178.66 L429.02,177.78 L429.23,176.89 L429.43,176.01 L429.64,175.13 L429.85,174.24 L430.06,173.36 L430.27,172.48 L430.48,171.60 L430.70,170.72 L430.91,169.84 L431.13,168.96 L431.35,168.08 L431.57,167.20 L431.79,166.32 L432.02,165.44 L432.24,164.56 L432.47,163.69 L432.70,162.81 L432.93,161.93 L433.17,161.06 L433.40,160.18 L433.64,159.30 L433.88,158.43 L434.12,157.55 L434.36,156.68 L434.61,155.81 L434.86,154.93 L435.11,154.06 L435.36,153.19 L435.62,152.31 L435.87,151.44 L436.13,150.57 L436.39,149.70 L436.66,148.83 L436.92,147.95 L437.19,147.08 L437.46,146.21 L437.74,145.34 L438.01,144.47 L438.29,143.60 L438.57,142.73 L438.86,141.86 L439.14,141.00 L439.43,140.13 L439.72,139.26 L440.02,138.39 L440.32,137.52 L440.62,136.66 L440.92,135.79 L441.23,134.92 L441.53,134.05 L441.85,133.19 L442.16,132.32 L442.48,131.45 L442.80,130.59 L443.12,129.72 L443.45,128.86 L443.78,127.99 L444.11,127.13 L444.45,126.26 L444.79,125.40 L445.13,124.53 L445.48,123.67 L445.83,122.81 L446.18,121.95 L446.54,121.09 L446.90,120.23 L447.26,119.37 L447.63,118.52 L448.00,117.66 L448.37,116.81 L448.75,115.96 L449.13,115.11 L449.52,114.26 L449.91,113.41 L450.30,112.57 L450.70,111.72 L451.10,110.88 L451.50,110.04 L451.91,109.21 L452.32,108.37 L452.74,107.54 L453.16,106.71 L453.58,105.89 L454.01,105.06 L454.44,104.24 L454.88,103.42 L455.32,102.60 L455.77,101.79 L456.22,100.98 L456.67,100.17 L457.13,99.37 L457.59,98.57 L458.06,97.77 L458.53,96.98 L459.01,96.19 L459.49,95.40 L459.97,94.62 L460.46,93.84 L460.96,93.07 L461.46,92.30 L461.96,91.53 L462.47,90.77 L462.98,90.01 L463.50,89.26 L464.02,88.51 L464.55,87.76 L465.09,87.02 L465.62,86.29 L466.17,85.56 L466.72,84.83 L467.27,84.11 L467.83,83.39 L468.39,82.68 L468.96,81.97 L469.54,81.27 L470.12,80.58 L470.70,79.89 L471.29,79.20 L471.89,78.53 L472.49,77.85 L473.09,77.19 L473.71,76.52 L474.32,75.87 L474.95,75.22 L475.58,74.58 L476.21,73.94 L476.85,73.31 L477.50,72.68 L478.15,72.07 L478.81,71.45 L479.47,70.85 L480.14,70.25 L480.81,69.66 L481.50,69.08 L482.18,68.50 L482.88,67.93 L483.58,67.36 L484.28,66.81 L484.99,66.26 L485.71,65.72 L486.43,65.18 L487.16,64.66 L487.90,64.14 L488.64,63.63 L489.39,63.12 L490.14,62.62 L490.90,62.13 L491.66,61.64 L492.43,61.17 L493.20,60.69 L493.98,60.23 L494.76,59.77 L495.55,59.32 L496.34,58.87 L497.14,58.43 L497.94,58.00 L498.74,57.57 L499.55,57.15 L500.37,56.74 L501.19,56.33 L502.01,55.92 L502.83,55.52 L503.66,55.13 L504.50,54.74 L505.33,54.36 L506.17,53.99 L507.01,53.61 L507.86,53.25 L508.71,52.89 L509.56,52.53 L510.41,52.18 L511.27,51.84 L512.13,51.49 L512.99,51.16 L513.85,50.83 L514.72,50.50 L515.59,50.18 L516.46,49.86 L517.33,49.55 L518.21,49.24 L519.08,48.93 L519.96,48.63 L520.84,48.33 L521.72,48.04 L522.60,47.75 L523.48,47.47 L524.36,47.19 L525.25,46.91 L526.13,46.63 L527.02,46.36 L527.91,46.10 L528.79,45.83 L529.68,45.57 L530.57,45.31 L531.45,45.06 L532.34,44.81 L533.23,44.56 L534.12,44.32 L535.00,44.07 L535.89,43.83 L536.78,43.60 L537.67,43.36 L538.56,43.13 L539.45,42.90 L540.34,42.68 L541.23,42.45 L542.12,42.23 L543.01,42.02 L543.90,41.80 L544.79,41.59 L545.68,41.38 L546.57,41.17 L547.46,40.96 L548.35,40.76 L549.24,40.55 L550.13,40.35 L551.02,40.16 L551.92,39.96 L552.81,39.77 L553.70,39.57 L554.59,39.38 L555.49,39.20 L556.38,39.01 L557.27,38.82 L558.17,38.64 L559.06,38.46 L559.95,38.28 L560.85,38.10 L561.74,37.92 L562.64,37.75 L563.53,37.57 L564.43,37.40 L565.32,37.23 L566.22,37.06 L567.11,36.89 L568.01,36.72 L568.91,36.55 L569.80,36.38 L570.70,36.22 L571.60,36.05 L572.49,35.89 L573.39,35.73 L574.29,35.56 L575.19,35.40 L576.09,35.24 L576.98,35.08 L577.88,34.92 L578.78,34.76 L579.68,34.60 L580.58,34.45 L581.48,34.29 L582.38,34.13 L583.28,33.98 L584.18,33.82 L585.08,33.67 L585.98,33.51 L586.89,33.36 L587.79,33.21 L588.69,33.06 L589.59,32.91 L590.50,32.76 L591.40,32.62 L592.30,32.47 L593.20,32.32 L594.11,32.18 L595.01,32.04 L595.92,31.90 L596.82,31.76 L597.73,31.62 L598.63,31.48 L599.54,31.35 L600.44,31.21 L601.35,31.08 L602.26,30.95 L603.16,30.82 L604.07,30.69 L604.98,30.57 L605.88,30.44 L606.79,30.32 L607.70,30.20 L608.61,30.08 L609.52,29.96 L610.42,29.85 L611.33,29.73 L612.24,29.62 L613.15,29.51 L614.06,29.41 L614.97,29.30 L615.88,29.20 L616.80,29.10 L617.71,29.00 L618.62,28.90 L619.53,28.81 L620.44,28.72 L621.36,28.63 L622.27,28.54 L623.18,28.45 L624.10,28.37 L625.01,28.29 L625.92,28.21 L626.84,28.14 L627.75,28.07 L628.67,28.00 L629.58,27.93 L630.50,27.87 L631.41,27.80 L632.33,27.74 L633.25,27.68 L634.16,27.62 L635.08,27.57 L636.00,27.51 L636.91,27.46 L637.83,27.40 L638.75,27.35 L639.66,27.29 L640.58,27.24 L641.49,27.18 L642.41,27.13 L643.33,27.07 L644.24,27.01 L645.16,26.95 L646.07,26.90 L646.98,26.83 L647.90,26.77 L648.81,26.71 L649.73,26.64 L650.64,26.57 L651.55,26.50 L652.46,26.42 L653.37,26.34 L654.28,26.26 L655.19,26.18 L656.10,26.09 L657.01,25.99 L657.92,25.90 L658.83,25.79 L659.73,25.69 L660.64,25.58 L661.54,25.46 L662.44,25.34 L663.35,25.21 L664.25,25.08 L665.15,24.94 L666.05,24.80 L666.95,24.65 L667.84,24.49 L668.74,24.33 L669.63,24.16 L670.53,23.98 L671.42,23.80 L672.31,23.60 L673.20,23.40" fill="none" stroke="#5cc65c" stroke-width="1.3" stroke-linejoin="round" stroke-linecap="round"/>
<rect x="52" y="13.5" width="282.5" height="237.7" fill="none" stroke="#555" stroke-width="1.6"/>
<line x1="43" y1="243.1" x2="52" y2="243.1" stroke="#555" stroke-width="1.5"/>
<text transform="translate(32.8,243.1) rotate(-90)" text-anchor="middle" font-size="13.4" fill="#2e2e2e" stroke="#2e2e2e" stroke-width="0.1" textLength="25" lengthAdjust="spacingAndGlyphs">0.00</text>
<line x1="43" y1="199.7" x2="52" y2="199.7" stroke="#555" stroke-width="1.5"/>
<text transform="translate(32.8,199.7) rotate(-90)" text-anchor="middle" font-size="13.4" fill="#2e2e2e" stroke="#2e2e2e" stroke-width="0.1" textLength="25" lengthAdjust="spacingAndGlyphs">0.02</text>
<line x1="43" y1="156.3" x2="52" y2="156.3" stroke="#555" stroke-width="1.5"/>
<text transform="translate(32.8,156.3) rotate(-90)" text-anchor="middle" font-size="13.4" fill="#2e2e2e" stroke="#2e2e2e" stroke-width="0.1" textLength="25" lengthAdjust="spacingAndGlyphs">0.04</text>
<line x1="43" y1="112.9" x2="52" y2="112.9" stroke="#555" stroke-width="1.5"/>
<text transform="translate(32.8,112.9) rotate(-90)" text-anchor="middle" font-size="13.4" fill="#2e2e2e" stroke="#2e2e2e" stroke-width="0.1" textLength="25" lengthAdjust="spacingAndGlyphs">0.06</text>
<line x1="43" y1="69.5" x2="52" y2="69.5" stroke="#555" stroke-width="1.5"/>
<text transform="translate(32.8,69.5) rotate(-90)" text-anchor="middle" font-size="13.4" fill="#2e2e2e" stroke="#2e2e2e" stroke-width="0.1" textLength="25" lengthAdjust="spacingAndGlyphs">0.08</text>
<line x1="43" y1="26.1" x2="52" y2="26.1" stroke="#555" stroke-width="1.5"/>
<text transform="translate(32.8,26.1) rotate(-90)" text-anchor="middle" font-size="13.4" fill="#2e2e2e" stroke="#2e2e2e" stroke-width="0.1" textLength="25" lengthAdjust="spacingAndGlyphs">0.10</text>
<line x1="61.5" y1="251.2" x2="61.5" y2="260.5" stroke="#555" stroke-width="1.5"/>
<text x="61.5" y="282.0" text-anchor="middle" font-size="13.4" fill="#2e2e2e" stroke="#2e2e2e" stroke-width="0.1">-40</text>
<line x1="100.4" y1="251.2" x2="100.4" y2="260.5" stroke="#555" stroke-width="1.5"/>
<text x="100.4" y="282.0" text-anchor="middle" font-size="13.4" fill="#2e2e2e" stroke="#2e2e2e" stroke-width="0.1">-30</text>
<line x1="139.2" y1="251.2" x2="139.2" y2="260.5" stroke="#555" stroke-width="1.5"/>
<text x="139.2" y="282.0" text-anchor="middle" font-size="13.4" fill="#2e2e2e" stroke="#2e2e2e" stroke-width="0.1">-20</text>
<line x1="178.1" y1="251.2" x2="178.1" y2="260.5" stroke="#555" stroke-width="1.5"/>
<text x="178.1" y="282.0" text-anchor="middle" font-size="13.4" fill="#2e2e2e" stroke="#2e2e2e" stroke-width="0.1">-10</text>
<line x1="217.0" y1="251.2" x2="217.0" y2="260.5" stroke="#555" stroke-width="1.5"/>
<text x="217.0" y="282.0" text-anchor="middle" font-size="13.4" fill="#2e2e2e" stroke="#2e2e2e" stroke-width="0.1">0</text>
<line x1="255.8" y1="251.2" x2="255.8" y2="260.5" stroke="#555" stroke-width="1.5"/>
<text x="255.8" y="282.0" text-anchor="middle" font-size="13.4" fill="#2e2e2e" stroke="#2e2e2e" stroke-width="0.1">10</text>
<line x1="294.7" y1="251.2" x2="294.7" y2="260.5" stroke="#555" stroke-width="1.5"/>
<text x="294.7" y="282.0" text-anchor="middle" font-size="13.4" fill="#2e2e2e" stroke="#2e2e2e" stroke-width="0.1">20</text>
<line x1="333.6" y1="251.2" x2="333.6" y2="260.5" stroke="#555" stroke-width="1.5"/>
<text x="333.6" y="282.0" text-anchor="middle" font-size="13.4" fill="#2e2e2e" stroke="#2e2e2e" stroke-width="0.1">30</text>
<text x="80.4" y="301.3" text-anchor="start" font-size="15.5" fill="#1e1e1e" stroke="#1e1e1e" stroke-width="0.35" textLength="231.3" lengthAdjust="spacingAndGlyphs">Combined functional damage score</text>
<text transform="translate(11.2,158.5) rotate(-90)" text-anchor="start" font-size="15.5" fill="#1e1e1e" stroke="#1e1e1e" stroke-width="0.35" textLength="47.9" lengthAdjust="spacingAndGlyphs">Density</text>
<text x="55.6" y="8.4" text-anchor="start" font-size="11" fill="#1e1e1e" stroke="#1e1e1e" stroke-width="0.15" textLength="8.2" lengthAdjust="spacingAndGlyphs">a)</text>
<line x1="60.5" y1="26.1" x2="91" y2="26.1" stroke="#d81e2a" stroke-width="2.6"/>
<line x1="60.5" y1="42.5" x2="91" y2="42.5" stroke="#1018bc" stroke-width="2.6"/>
<text x="96.6" y="29.7" text-anchor="start" font-size="11.5" fill="#1e1e1e" stroke="#1e1e1e" stroke-width="0.35" textLength="132.4" lengthAdjust="spacingAndGlyphs">Disease-associated variants</text>
<text x="96.6" y="46.5" text-anchor="start" font-size="11.5" fill="#1e1e1e" stroke="#1e1e1e" stroke-width="0.35" textLength="155.7" lengthAdjust="spacingAndGlyphs">Non-disease-associated variants</text>
<rect x="400.8" y="14.7" width="282.90000000000003" height="237.60000000000002" fill="none" stroke="#555" stroke-width="1.6"/>
<line x1="392.5" y1="244.0" x2="400.8" y2="244.0" stroke="#555" stroke-width="1.5"/>
<text transform="translate(381.5,244.0) rotate(-90)" text-anchor="middle" font-size="13.4" fill="#2e2e2e" stroke="#2e2e2e" stroke-width="0.1">0.0</text>
<line x1="411.2" y1="252.3" x2="411.2" y2="261" stroke="#555" stroke-width="1.5"/>
<text x="411.2" y="282.2" text-anchor="middle" font-size="13.4" fill="#2e2e2e" stroke="#2e2e2e" stroke-width="0.1">0.0</text>
<line x1="392.5" y1="199.9" x2="400.8" y2="199.9" stroke="#555" stroke-width="1.5"/>
<text transform="translate(381.5,199.9) rotate(-90)" text-anchor="middle" font-size="13.4" fill="#2e2e2e" stroke="#2e2e2e" stroke-width="0.1">0.2</text>
<line x1="463.6" y1="252.3" x2="463.6" y2="261" stroke="#555" stroke-width="1.5"/>
<text x="463.6" y="282.2" text-anchor="middle" font-size="13.4" fill="#2e2e2e" stroke="#2e2e2e" stroke-width="0.1">0.2</text>
<line x1="392.5" y1="155.8" x2="400.8" y2="155.8" stroke="#555" stroke-width="1.5"/>
<text transform="translate(381.5,155.8) rotate(-90)" text-anchor="middle" font-size="13.4" fill="#2e2e2e" stroke="#2e2e2e" stroke-width="0.1">0.4</text>
<line x1="516.0" y1="252.3" x2="516.0" y2="261" stroke="#555" stroke-width="1.5"/>
<text x="516.0" y="282.2" text-anchor="middle" font-size="13.4" fill="#2e2e2e" stroke="#2e2e2e" stroke-width="0.1">0.4</text>
<line x1="392.5" y1="111.6" x2="400.8" y2="111.6" stroke="#555" stroke-width="1.5"/>
<text transform="translate(381.5,111.6) rotate(-90)" text-anchor="middle" font-size="13.4" fill="#2e2e2e" stroke="#2e2e2e" stroke-width="0.1">0.6</text>
<line x1="568.4" y1="252.3" x2="568.4" y2="261" stroke="#555" stroke-width="1.5"/>
<text x="568.4" y="282.2" text-anchor="middle" font-size="13.4" fill="#2e2e2e" stroke="#2e2e2e" stroke-width="0.1">0.6</text>
<line x1="392.5" y1="67.5" x2="400.8" y2="67.5" stroke="#555" stroke-width="1.5"/>
<text transform="translate(381.5,67.5) rotate(-90)" text-anchor="middle" font-size="13.4" fill="#2e2e2e" stroke="#2e2e2e" stroke-width="0.1">0.8</text>
<line x1="620.8" y1="252.3" x2="620.8" y2="261" stroke="#555" stroke-width="1.5"/>
<text x="620.8" y="282.2" text-anchor="middle" font-size="13.4" fill="#2e2e2e" stroke="#2e2e2e" stroke-width="0.1">0.8</text>
<line x1="392.5" y1="23.4" x2="400.8" y2="23.4" stroke="#555" stroke-width="1.5"/>
<text transform="translate(381.5,23.4) rotate(-90)" text-anchor="middle" font-size="13.4" fill="#2e2e2e" stroke="#2e2e2e" stroke-width="0.1">1.0</text>
<line x1="673.2" y1="252.3" x2="673.2" y2="261" stroke="#555" stroke-width="1.5"/>
<text x="673.2" y="282.2" text-anchor="middle" font-size="13.4" fill="#2e2e2e" stroke="#2e2e2e" stroke-width="0.1">1.0</text>
<text x="467.4" y="301.1" text-anchor="start" font-size="15.5" fill="#1e1e1e" stroke="#1e1e1e" stroke-width="0.35" textLength="138.4" lengthAdjust="spacingAndGlyphs">False positive fraction</text>
<text transform="translate(360.3,206.1) rotate(-90)" text-anchor="start" font-size="15.5" fill="#1e1e1e" stroke="#1e1e1e" stroke-width="0.35" textLength="135.4" lengthAdjust="spacingAndGlyphs">True positive fraction</text>
<text x="404.2" y="10.5" text-anchor="start" font-size="11" fill="#1e1e1e" stroke="#1e1e1e" stroke-width="0.15" textLength="10.6" lengthAdjust="spacingAndGlyphs">b)</text>
<line x1="561.8" y1="177.7" x2="595.8" y2="177.7" stroke="#232323" stroke-width="2.8"/>
<text x="600.5" y="181.1" text-anchor="start" font-size="11.5" fill="#1e1e1e" stroke="#1e1e1e" stroke-width="0.35" textLength="81.7" lengthAdjust="spacingAndGlyphs">Combined score</text>
<line x1="561.8" y1="194.0" x2="595.8" y2="194.0" stroke="#8c328c" stroke-width="1.6"/>
<text x="600.5" y="196.5" text-anchor="start" font-size="11.5" fill="#1e1e1e" stroke="#1e1e1e" stroke-width="0.35" textLength="74.8" lengthAdjust="spacingAndGlyphs">MutationTaster</text>
<line x1="561.8" y1="208.9" x2="595.8" y2="208.9" stroke="#5a5a5a" stroke-width="1.6"/>
<text x="600.5" y="211.9" text-anchor="start" font-size="11.5" fill="#1e1e1e" stroke="#1e1e1e" stroke-width="0.35" textLength="56.6" lengthAdjust="spacingAndGlyphs">PolyPhen-2</text>
<line x1="561.8" y1="224.1" x2="595.8" y2="224.1" stroke="#222" stroke-width="1.6"/>
<text x="600.5" y="227.3" text-anchor="start" font-size="11.5" fill="#1e1e1e" stroke="#1e1e1e" stroke-width="0.35" textLength="19.7" lengthAdjust="spacingAndGlyphs">SIFT</text>
<line x1="561.8" y1="238.9" x2="595.8" y2="238.9" stroke="#2d962d" stroke-width="1.6"/>
<text x="600.5" y="242.7" text-anchor="start" font-size="11.5" fill="#1e1e1e" stroke="#1e1e1e" stroke-width="0.35" textLength="40.2" lengthAdjust="spacingAndGlyphs">GERP++</text>
</svg></div>
</body></html>
